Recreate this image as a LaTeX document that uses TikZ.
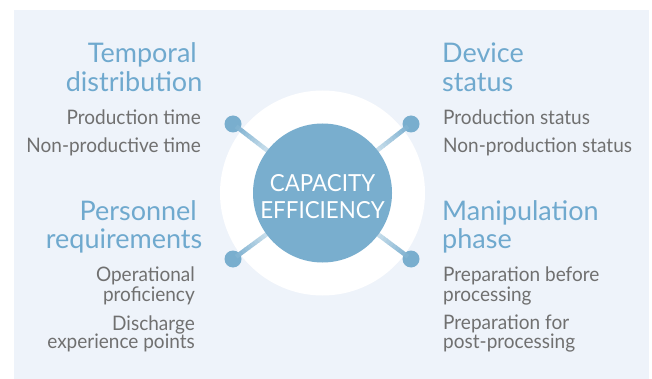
\documentclass[tikz,border=0pt]{standalone}
\usepackage{fontspec}
\setmainfont{Lato}[FakeStretch=0.95]
\newfontfamily\headfont{Lato}
\usetikzlibrary{calc}
\definecolor{panel}{HTML}{EEF3FA}
\definecolor{bluemain}{HTML}{79AECE}
\definecolor{bluelight}{HTML}{CFE2EE}
\definecolor{headblue}{HTML}{6FA9CE}
\definecolor{graytext}{HTML}{707070}
\tikzset{
  head/.style={inner sep=0pt, text=headblue, font=\headfont\fontsize{27}{30}\selectfont},
  item/.style={inner sep=0pt, text=graytext, font=\fontsize{20}{23}\selectfont},
  dotnode/.style={circle, fill=bluemain, minimum size=17pt, inner sep=0pt},
  hub/.style={circle, fill=bluemain, minimum size=139pt, inner sep=0pt},
  hubtext/.style={inner sep=0pt, text=white, font=\fontsize{23.5}{27}\selectfont, anchor=base},
}
\begin{document}
\begin{tikzpicture}[x=1pt,y=-1pt]
\useasboundingbox (0,0) rectangle (652,379);
\fill[panel] (14,10) rectangle (649,379);
\fill[white] (322.5,193) circle (102.5pt);
\coordinate (hc) at (322.5,193);
\node[dotnode] (d1) at (233,124) {};
\node[dotnode] (d2) at (411,124) {};
\node[dotnode] (d3) at (233,259) {};
\node[dotnode] (d4) at (411,259) {};
\foreach \d in {d1,d2,d3,d4}{
  \foreach \i in {0,...,11}{
    \pgfmathsetmacro{\a}{\i*0.035}
    \pgfmathsetmacro{\b}{(\i+1)*0.035+0.004}
    \pgfmathsetmacro{\m}{100-\i*100/11}
    \draw[line width=4.5pt, color=bluemain!\m!bluelight]
      ($(\d)!\a!(hc)$) -- ($(\d)!\b!(hc)$);
  }
}
\node[hub] (c) at (hc) {};
\node[hubtext] (c1) at (322.5,192) {CAPACITY};
\node[hubtext] (c2) at (322.5,218.5) {EFFICIENCY};
% left top
\node[head, anchor=base east] (h1a) at (197,62.7) {Temporal};
\node[head, anchor=base east] (h1b) at (202.5,91.7) {distribution};
\node[item, anchor=base east] (i1a) at (201,125) {Production time};
\node[item, anchor=base east] (i1b) at (201,153) {Non-productive time};
% right top
\node[head, anchor=base west] (h2a) at (442,62.7) {Device};
\node[head, anchor=base west] (h2b) at (442,91.7) {status};
\node[item, anchor=base west] (i2a) at (443,125) {Production status};
\node[item, anchor=base west] (i2b) at (443,153) {Non-production status};
% left bottom
\node[head, anchor=base east] (h3a) at (197,220) {Personnel};
\node[head, anchor=base east] (h3b) at (202.5,248) {requirements};
\node[item, anchor=base east] (i3a) at (195,281.7) {Operational};
\node[item, anchor=base east] (i3b) at (195,301) {proficiency};
\node[item, anchor=base east] (i3c) at (195,330) {Discharge};
\node[item, anchor=base east] (i3d) at (195,348.5) {experience points};
% right bottom
\node[head, anchor=base west] (h4a) at (442,220) {Manipulation};
\node[head, anchor=base west] (h4b) at (442,248) {phase};
\node[item, anchor=base west] (i4a) at (443,281.7) {Preparation before};
\node[item, anchor=base west] (i4b) at (443,301) {processing};
\node[item, anchor=base west] (i4c) at (443,329.5) {Preparation for};
\node[item, anchor=base west] (i4d) at (443,348.5) {post-processing};
\end{tikzpicture}
\end{document}
